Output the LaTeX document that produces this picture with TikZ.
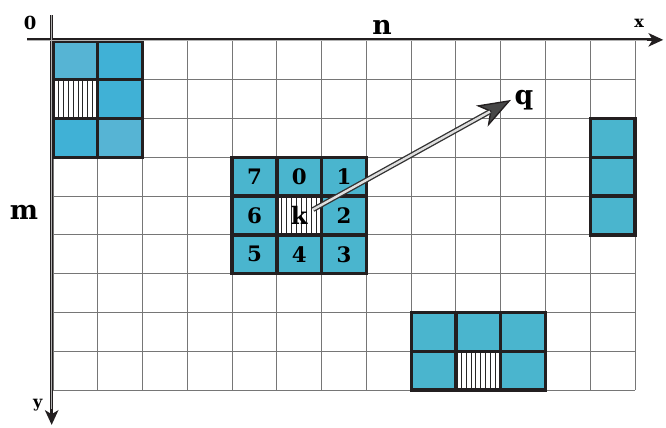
\documentclass[tikz,border=0pt]{standalone}
\usepackage{fontspec}
\newfontfamily\lblfont{DejaVu Serif}
\usetikzlibrary{arrows.meta}
\definecolor{cellteal}{RGB}{74,181,206}
\definecolor{cellblue}{RGB}{64,177,214}
\definecolor{celllight}{RGB}{86,180,212}
\definecolor{gridgray}{RGB}{118,118,118}
\definecolor{edgeblack}{RGB}{35,31,32}
\begin{document}
\begin{tikzpicture}[
        x=33.58pt, y=-29.085pt,
        gridline/.style={draw=gridgray, line width=0.75pt},
        blockedge/.style={draw=edgeblack, line width=2.5pt},
        hatchline/.style={draw=black!85, line width=0.55pt},
        axisline/.style={draw=edgeblack, line width=2.4pt,
          -{Stealth[length=11pt, width=10pt, inset=3pt]}},
        axiscore/.style={draw=gray!60, line width=0.35pt},
        vechead/.style={draw=edgeblack, line width=1pt,
          -{Stealth[length=25pt, width=18pt, inset=7pt, fill=black!72]}},
        vecshaft/.style={draw=black!80, double=gray!25, double distance=1.8pt,
          line width=1pt, shorten >=18pt},
        celllbl/.style={font=\lblfont\bfseries\fontsize{16}{16}\selectfont, inner sep=1pt},
        klbl/.style={font=\lblfont\bfseries\fontsize{18}{18}\selectfont, inner sep=1pt},
        biglbl/.style={font=\lblfont\bfseries\fontsize{20}{20}\selectfont, inner sep=1pt},
        smalllbl/.style={font=\lblfont\bfseries\fontsize{12}{12}\selectfont, inner sep=1pt},
        originlbl/.style={font=\lblfont\bfseries\fontsize{13.5}{13.5}\selectfont, inner sep=1pt}
      ]
      \useasboundingbox (-1.1838,-1.0572) rectangle (13.692,9.979);
      % background grid, 13 x 9 cells
      \foreach \c in {0,...,13}{
        \draw[gridline] (\c,0) -- (\c,9);
      }
      \foreach \r in {0,...,9}{
        \draw[gridline] (0,\r) -- (13,\r);
      }
      % filled cells of the four blocks
      \foreach \i/\j/\col in {%
        0/0/celllight, 1/0/cellblue, 0/1/white, 1/1/cellblue, 0/2/cellblue, 1/2/celllight,
        4/3/cellteal, 5/3/cellteal, 6/3/cellteal, 4/4/cellteal, 5/4/white, 6/4/cellteal,
        4/5/cellteal, 5/5/cellteal, 6/5/cellteal,
        12/2/cellteal, 12/3/cellteal, 12/4/cellteal,
        8/7/cellteal, 9/7/cellteal, 10/7/cellteal, 8/8/cellteal, 9/8/white, 10/8/cellteal%
      }{
        \fill[\col] (\i,\j) rectangle ++(1,1);
      }
      % hatched cells
      \foreach \i/\j in {0/1, 5/4, 9/8}{
        \foreach \s in {1,...,8}{
          \draw[hatchline] ({\i+\s/9},\j) -- ++(0,1);
        }
      }
      % thick cell borders
      \foreach \i/\j/\w/\h in {0/0/2/3, 4/3/3/3, 12/2/1/3, 8/7/3/2}{
        \foreach \a in {1,...,\w}{
          \foreach \b in {1,...,\h}{
            \draw[blockedge] ({\i+\a-1},{\j+\b-1}) rectangle ++(1,1);
          }
        }
      }
      % neighbour numbers
      \foreach \i/\j/\lbl/\nm in {%
        4/3/7/nb7, 5/3/0/nb0, 6/3/1/nb1, 4/4/6/nb6,
        6/4/2/nb2, 4/5/5/nb5, 5/5/4/nb4, 6/5/3/nb3%
      }{
        \node[celllbl] (\nm) at ({\i+0.5},{\j+0.5}) {\lbl};
      }
      \node[klbl] (k) at (5.5,4.5) {k};
      % axes
      \coordinate (xfrom) at (-0.58,-0.03);
      \coordinate (xto) at (13.63,-0.03);
      \coordinate (yfrom) at (-0.03,-0.67);
      \coordinate (yto) at (-0.03,9.9);
      \draw[axisline] (xfrom) -- (xto);
      \draw[axisline] (yfrom) -- (yto);
      \draw[axiscore, shorten >=12pt] (xfrom) -- (xto);
      \draw[axiscore, shorten >=12pt] (yfrom) -- (yto);
      \node[originlbl] (origin) at (-0.51,-0.46) {0};
      \node[biglbl] (nlbl) at (7.35,-0.35) {n};
      \node[biglbl] (mlbl) at (-0.65,4.41) {m};
      \node[smalllbl] (xlbl) at (13.09,-0.46) {x};
      \node[smalllbl] (ylbl) at (-0.34,9.39) {y};
      % direction vector from k to q
      \coordinate (qtip) at (10.23,1.52);
      \node[biglbl] (qlbl) at (10.52,1.52) {q};
      \draw[vechead] ([xshift=3pt,yshift=4.5pt]k.east) -- (qtip);
      \draw[vecshaft] ([xshift=3pt,yshift=4.5pt]k.east) -- (qtip);
    \end{tikzpicture}
\end{document}
